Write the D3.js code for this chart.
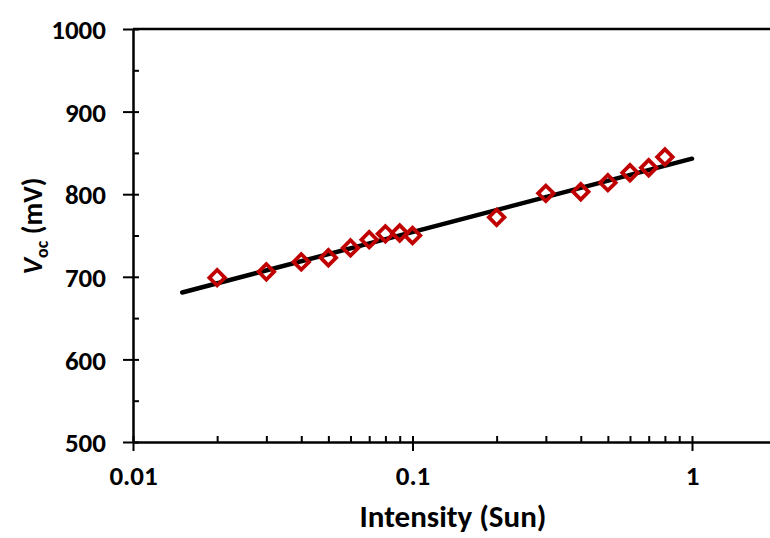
<!DOCTYPE html>
<html>
<head>
<meta charset="utf-8">
<script src="https://cdn.jsdelivr.net/npm/d3@7"></script>
<style>
  body { margin: 0; background: #fff; }
  svg { display: block; }
  text { font-family: Carlito, Calibri, Lato, sans-serif; font-weight: bold; fill: #000; }
</style>
</head>
<body>
<script>
// measured points (intensity in suns, Voc in mV)
let intensity = [0.02, 0.03, 0.04, 0.05, 0.06, 0.07, 0.08, 0.09, 0.1, 0.2, 0.3, 0.4, 0.5, 0.6, 0.7, 0.8]
let voc = [699, 706, 718, 723, 735, 745, 752, 753, 750, 772, 801, 803, 814, 826, 832, 845]

// fitted line at its two ends
let fitX = [0.015, 1]
let fitY = [681, 843]

let xTicks = [0.01, 0.1, 1]
let xTickLabels = ['0.01', '0.1', '1']
let yTicks = [500, 600, 700, 800, 900, 1000]

const W = 770, H = 538
const RED = '#c00000'

let svg = d3.select('body').append('svg')
    .attr('width', W)
    .attr('height', H)

let x = d3.scaleLog().domain([0.01, 10]).range([133, 133 + 3 * 279.5])
let y = d3.scaleLinear().domain([500, 1000]).range([442, 29])

// minor x ticks (2..9 in each decade), pointing up into the plot
let minorX = []
xTicks.slice(0, -1).forEach(t => {
    for (let k = 2; k <= 9; k++) minorX.push(t * k)
})

svg.append('g')
    .attr('transform', `translate(0,${y(500)})`)
    .call(d3.axisBottom(x).tickValues(minorX).tickSize(-6).tickFormat(''))
    .call(g => g.select('.domain').remove())
    .selectAll('line').attr('stroke', '#000').attr('stroke-width', 2)

// major x ticks, crossing the axis
let xAxis = svg.append('g')
    .attr('transform', `translate(0,${y(500)})`)
    .call(d3.axisBottom(x).tickValues(xTicks).tickSize(9).tickSizeOuter(0)
        .tickFormat((d, i) => xTickLabels[i]))
xAxis.select('.domain').attr('stroke', '#000').attr('stroke-width', 2.5)
xAxis.selectAll('.tick line').attr('y1', -6).attr('stroke', '#000').attr('stroke-width', 2)
xAxis.selectAll('.tick text')
    .attr('y', 43).attr('dy', 0)
    .style('font-size', '27px')

// minor y ticks, pointing right into the plot
let minorY = yTicks.slice(0, -1).map(t => t + 50)
svg.append('g')
    .attr('transform', `translate(${x(0.01)},0)`)
    .call(d3.axisLeft(y).tickValues(minorY).tickSize(-6).tickFormat(''))
    .call(g => g.select('.domain').remove())
    .selectAll('line').attr('stroke', '#000').attr('stroke-width', 2)

let yAxis = svg.append('g')
    .attr('transform', `translate(${x(0.01)},0)`)
    .call(d3.axisLeft(y).tickValues(yTicks).tickSize(10).tickSizeOuter(0).tickFormat(d3.format('d')))
yAxis.select('.domain').attr('stroke', '#000').attr('stroke-width', 2.5)
yAxis.selectAll('.tick line').attr('x1', 6).attr('stroke', '#000').attr('stroke-width', 2)
yAxis.selectAll('.tick text')
    .attr('x', -27).attr('dy', '0.36em')
    .style('font-size', '27px')

// top border of the plot area
svg.append('line')
    .attr('x1', x(0.01)).attr('x2', W)
    .attr('y1', y(1000)).attr('y2', y(1000))
    .attr('stroke', '#000').attr('stroke-width', 2.5)

// fit line
let fit = fitX.map((d, i) => [d, fitY[i]])
svg.append('path')
    .datum(fit)
    .attr('d', d3.line().x(d => x(d[0])).y(d => y(d[1])))
    .attr('fill', 'none')
    .attr('stroke', '#000')
    .attr('stroke-width', 4.5)
    .attr('stroke-linecap', 'round')

// data points: open red diamonds
let diamond = d3.symbol().type(d3.symbolSquare).size(120)
svg.selectAll('.pt')
    .data(intensity)
    .join('path')
    .classed('pt', true)
    .attr('d', diamond)
    .attr('transform', (d, i) => `translate(${x(d)},${y(voc[i])}) rotate(45)`)
    .attr('fill', 'none')
    .attr('stroke', RED)
    .attr('stroke-width', 3.8)

// axis titles
svg.append('text')
    .attr('x', 453).attr('y', 527)
    .attr('text-anchor', 'middle')
    .style('font-size', '31px')
    .text('Intensity (Sun)')

let yTitle = svg.append('text')
    .attr('transform', 'translate(42,226) rotate(-90)')
    .attr('text-anchor', 'middle')
    .style('font-size', '28px')
yTitle.append('tspan').style('font-style', 'italic').text('V')
yTitle.append('tspan').attr('dy', 6).style('font-size', '18px').text('oc')
yTitle.append('tspan').attr('dy', -6).text(' (mV)')
</script>
</body>
</html>
